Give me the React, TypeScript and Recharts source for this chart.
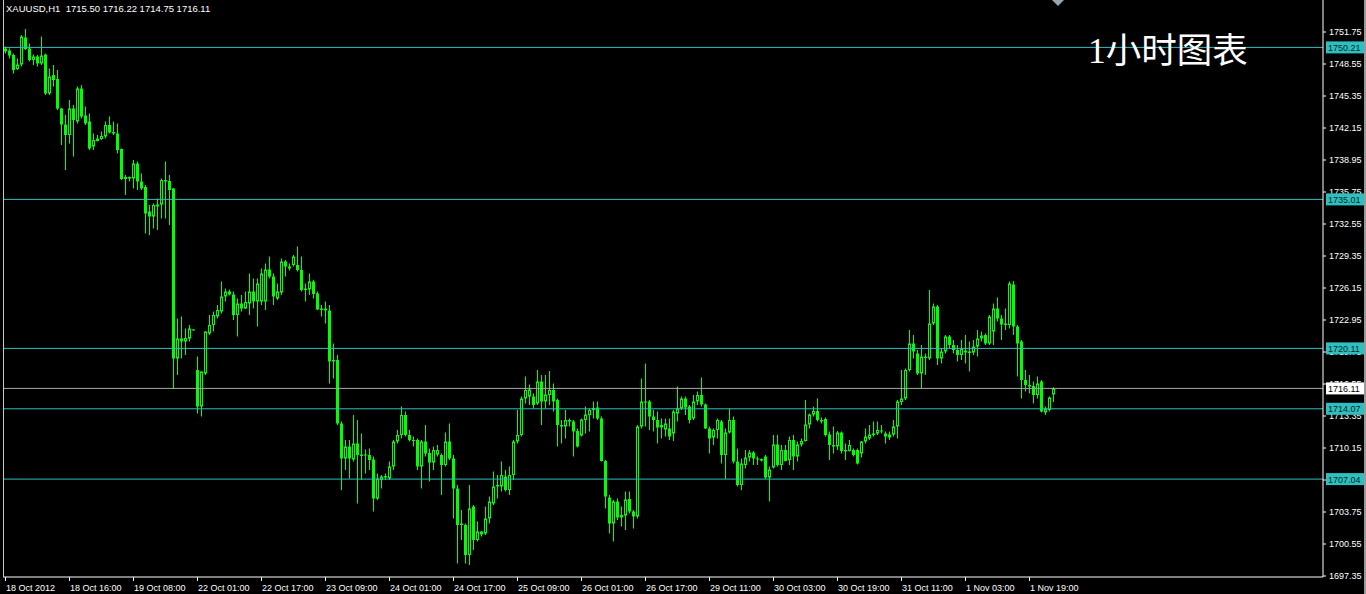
import React from 'react';
import { ComposedChart, Bar, XAxis, YAxis, ReferenceLine } from 'recharts';

type C = [number, number, number, number]; // open, high, low, close

const oct18: C[] = [
  [1750.1,1750.3,1749.6,1749.8],[1749.9,1750.1,1749.1,1749.4],[1749.45,1749.6,1747.6,1747.95],[1748.05,1749.1,1747.95,1748.5],
  [1748.5,1751.45,1748.3,1751.3],[1751.2,1752.05,1749.95,1750.05],[1750.1,1750.6,1748.8,1748.95],[1748.95,1749.5,1748.45,1749.3],
  [1749.3,1749.45,1748.3,1748.6],[1748.6,1751.3,1748.45,1749.4],[1749.5,1749.6,1745.45,1745.6],[1745.6,1748.1,1745.45,1747.3],
  [1747.45,1748.45,1746.3,1746.95],[1747.05,1747.95,1743.95,1744.1],[1744.1,1744.15,1740.45,1742.5],[1742.5,1743.45,1737.95,1741.45],
  [1741.45,1744.95,1740.6,1744.1],[1744.1,1744.45,1739.3,1742.95],[1742.8,1746.3,1742.6,1746.1],[1746.1,1746.45,1743.1,1743.3],
  [1743.4,1744.3,1742.45,1742.6],[1742.8,1743.6,1739.95,1740.1],[1740.3,1741.6,1739.95,1740.95],[1740.85,1741.45,1740.8,1741.1],
];
const oct19: C[] = [
  [1741.05,1741.8,1740.95,1741.35],[1741.3,1742.8,1741.1,1742.45],[1742.45,1743.3,1741.6,1741.7],[1741.7,1742.8,1741.45,1741.75],
  [1741.6,1742.6,1739.6,1739.95],[1740.05,1740.1,1736.95,1737.05],[1737.05,1737.45,1735.45,1737.25],[1737.25,1737.3,1736.8,1737.1],
  [1737.1,1738.95,1736.1,1738.6],[1738.6,1738.8,1735.95,1736.8],[1736.8,1737.6,1735.95,1736.1],[1736.25,1736.45,1731.6,1733.6],
  [1733.8,1734.45,1731.45,1733.3],[1733.3,1734.6,1732.1,1734.45],[1734.3,1735.1,1731.95,1734.5],[1734.5,1737.1,1733.1,1736.95],
  [1736.95,1738.8,1733.1,1736.8],[1736.85,1737.45,1732.45,1735.95],[1736.1,1736.15,1716.1,1719.1],[1719.1,1723.1,1717.45,1721.1],
  [1721.1,1723.3,1719.1,1720.8],[1720.8,1722.1,1719.45,1721.15],[1721.1,1722.45,1720.8,1722.1],
];
const oct22: C[] = [
  [1722.0,1722.05,1721.9,1721.95],[1717.95,1719.3,1713.6,1714.3],[1714.3,1717.8,1713.3,1717.8],[1717.6,1721.8,1717.45,1721.8],
  [1721.6,1723.45,1721.45,1722.45],[1722.45,1723.8,1721.8,1723.45],[1723.3,1724.45,1723.1,1723.95],[1723.8,1726.8,1723.6,1725.3],
  [1725.3,1726.1,1724.8,1725.8],[1725.8,1726.0,1725.4,1725.5],[1725.5,1725.8,1722.95,1723.45],[1723.45,1725.1,1721.3,1724.6],
  [1724.6,1725.45,1723.8,1724.1],[1724.1,1725.8,1724.05,1724.75],[1724.6,1727.6,1723.45,1725.8],[1725.8,1727.1,1724.1,1724.8],
  [1724.8,1727.1,1722.3,1726.6],[1724.8,1728.1,1724.45,1727.6],[1724.8,1728.6,1723.95,1728.0],[1728.0,1729.3,1727.1,1727.3],
  [1727.3,1727.6,1724.45,1725.3],[1725.1,1726.6,1724.95,1725.8],[1725.7,1729.1,1725.45,1728.8],[1728.8,1728.95,1727.3,1728.3],
];
const oct23: C[] = [
  [1728.3,1728.6,1727.9,1728.1],[1728.45,1729.45,1728.3,1729.3],[1728.45,1730.3,1727.8,1727.95],[1727.95,1729.3,1725.8,1725.95],
  [1725.95,1726.6,1724.8,1726.1],[1726.0,1727.6,1725.45,1726.8],[1726.8,1726.95,1725.1,1725.55],[1725.6,1725.8,1723.95,1724.0],
  [1724.0,1724.45,1723.3,1724.1],[1724.1,1724.8,1722.6,1723.9],[1723.9,1724.45,1716.6,1718.8],[1718.8,1720.6,1717.1,1718.95],
  [1718.95,1719.45,1712.45,1712.6],[1712.6,1712.8,1705.95,1709.1],[1709.1,1710.95,1707.95,1710.3],[1710.3,1710.95,1707.1,1709.1],
  [1709.0,1713.45,1708.8,1710.6],[1710.6,1712.95,1704.6,1709.45],[1709.45,1711.6,1706.95,1709.5],[1709.5,1710.0,1707.6,1709.4],
  [1709.45,1710.1,1707.95,1708.95],[1709.0,1709.3,1703.8,1705.1],[1705.1,1707.6,1704.95,1707.1],[1706.95,1707.45,1706.1,1707.3],
];
const oct24: C[] = [
  [1707.2,1707.6,1706.95,1707.35],[1707.1,1708.8,1706.95,1708.3],[1708.3,1710.95,1707.95,1710.8],[1710.8,1711.95,1710.6,1711.45],
  [1711.45,1714.3,1711.1,1713.45],[1713.45,1713.8,1711.3,1711.45],[1711.45,1711.95,1710.8,1710.95],[1710.95,1711.3,1710.3,1710.9],
  [1710.95,1711.1,1707.95,1708.3],[1708.3,1710.95,1706.1,1710.8],[1710.8,1712.45,1709.3,1709.6],[1709.65,1710.1,1706.8,1708.7],
  [1708.7,1710.3,1707.95,1709.95],[1709.5,1710.45,1709.3,1709.95],[1709.45,1709.6,1705.45,1708.45],[1708.45,1711.7,1708.3,1710.8],
  [1710.8,1712.6,1708.95,1709.1],[1709.1,1709.45,1703.1,1706.1],[1706.1,1706.45,1698.6,1702.45],[1702.45,1703.95,1700.95,1702.6],
  [1702.45,1702.6,1698.6,1699.45],[1699.45,1706.45,1698.45,1704.1],[1704.3,1704.45,1699.95,1700.95],[1700.95,1702.8,1700.8,1701.8],
];
const oct25: C[] = [
  [1701.8,1701.85,1701.3,1701.5],[1701.6,1704.3,1701.45,1703.1],[1703.1,1705.3,1702.6,1704.8],[1704.6,1707.8,1704.45,1706.3],
  [1706.3,1707.45,1705.1,1706.45],[1706.3,1708.8,1705.8,1707.45],[1707.3,1707.95,1705.8,1705.95],[1705.95,1708.3,1705.45,1707.45],
  [1707.45,1710.95,1706.95,1710.8],[1710.8,1713.95,1710.6,1711.45],[1711.45,1715.3,1711.3,1715.1],[1715.1,1717.3,1714.6,1715.95],
  [1715.3,1716.5,1714.45,1716.0],[1715.3,1715.6,1714.1,1714.45],[1714.6,1717.95,1714.45,1716.8],[1716.8,1717.45,1712.45,1714.8],
  [1714.8,1717.45,1714.1,1715.5],[1715.45,1717.85,1714.45,1715.95],[1715.95,1716.6,1713.8,1714.8],[1714.95,1715.1,1710.3,1712.45],
  [1712.45,1712.95,1710.6,1712.3],[1712.3,1713.95,1711.1,1712.95],[1712.95,1713.1,1712.3,1712.8],[1712.8,1712.95,1709.3,1711.8],
];
const oct26: C[] = [
  [1711.85,1712.1,1710.2,1710.3],[1711.4,1713.1,1711.3,1713.0],[1712.95,1714.3,1711.6,1713.5],[1713.45,1714.1,1711.8,1713.95],
  [1713.95,1714.8,1713.1,1714.15],[1714.2,1714.8,1712.95,1713.1],[1713.1,1713.3,1708.8,1708.85],[1708.85,1708.95,1704.1,1705.3],
  [1705.2,1705.45,1701.6,1702.6],[1702.6,1704.95,1700.8,1704.8],[1704.8,1705.1,1702.95,1703.2],[1703.2,1704.3,1702.3,1703.45],
  [1703.4,1705.8,1701.95,1705.0],[1705.05,1705.8,1703.6,1703.8],[1703.8,1703.95,1702.1,1703.3],[1703.3,1712.45,1703.1,1712.3],
  [1712.3,1717.1,1712.1,1714.8],[1714.8,1718.6,1712.3,1714.7],[1714.8,1714.95,1711.95,1713.3],[1713.3,1713.95,1711.8,1712.95],
  [1712.95,1713.8,1710.6,1712.2],[1712.2,1713.1,1711.1,1712.45],
];
const oct29: C[] = [
  [1712.0,1713.1,1711.3,1712.6],[1712.1,1713.1,1710.95,1711.3],[1711.6,1713.95,1710.85,1713.8],[1713.6,1716.3,1712.8,1714.1],
  [1714.1,1715.3,1713.95,1715.1],[1715.1,1715.3,1713.45,1714.2],[1714.3,1714.45,1712.6,1712.95],[1713.1,1715.45,1712.95,1714.8],
  [1714.8,1715.8,1714.45,1715.45],[1715.45,1717.2,1714.3,1714.5],[1714.5,1714.6,1712.05,1712.1],[1712.1,1712.3,1709.6,1711.1],
  [1711.2,1712.1,1710.45,1711.95],[1711.95,1713.1,1711.1,1712.95],[1712.8,1712.95,1708.6,1709.45],[1709.45,1712.1,1707.05,1711.7],
  [1711.7,1714.1,1711.6,1712.95],[1712.95,1713.3,1708.6,1708.8],[1708.8,1710.1,1706.3,1706.45],[1706.45,1709.1,1705.95,1708.6],
  [1708.45,1709.95,1708.1,1709.2],[1709.2,1709.95,1708.8,1709.7],[1709.7,1709.85,1708.45,1709.1],[1709.1,1709.3,1708.45,1709.0],
];
const oct30: C[] = [
  [1709.05,1709.1,1708.8,1708.9],[1709.3,1709.45,1707.05,1707.2],[1707.2,1708.3,1704.8,1708.0],[1708.2,1711.45,1708.1,1710.5],
  [1710.5,1711.45,1708.3,1708.45],[1708.45,1710.45,1707.95,1709.95],[1709.95,1710.45,1708.8,1708.85],[1708.95,1711.3,1708.45,1710.95],
  [1710.95,1711.45,1707.95,1709.3],[1709.3,1710.8,1708.8,1710.5],[1710.5,1711.1,1710.3,1710.85],[1710.85,1714.95,1710.8,1712.5],
  [1712.5,1713.6,1712.1,1713.5],[1713.5,1714.3,1713.3,1713.85],[1713.85,1715.1,1712.8,1712.95],[1712.95,1713.2,1712.6,1712.8],
  [1713.05,1713.2,1711.3,1711.45],[1711.5,1711.8,1708.95,1710.45],[1710.45,1712.3,1709.6,1710.3],[1710.3,1711.85,1709.95,1711.7],
  [1711.7,1711.8,1709.6,1709.85],[1709.85,1710.6,1708.95,1709.95],[1709.85,1710.95,1709.8,1710.45],[1709.95,1710.1,1709.3,1709.45],
];
const oct31: C[] = [
  [1709.95,1710.1,1708.5,1708.6],[1709.6,1710.85,1709.2,1710.8],[1710.8,1712.1,1710.6,1711.3],[1711.1,1712.45,1710.95,1711.5],
  [1711.5,1712.8,1711.3,1711.6],[1711.6,1712.8,1711.45,1711.95],[1711.9,1712.45,1711.6,1711.8],[1711.6,1711.8,1710.6,1711.3],
  [1711.2,1711.8,1710.95,1711.5],[1711.5,1712.95,1711.3,1712.3],[1712.3,1714.95,1711.1,1714.8],[1714.75,1717.95,1714.45,1715.1],
  [1715.1,1718.1,1714.95,1717.95],[1717.95,1721.95,1717.8,1720.6],[1720.6,1721.45,1719.1,1719.8],[1719.6,1719.95,1717.45,1717.6],
  [1717.6,1720.45,1716.1,1719.3],[1719.3,1719.6,1717.45,1719.15],[1719.1,1725.95,1718.95,1722.6],[1722.6,1724.6,1722.45,1724.3],
  [1724.3,1724.45,1718.45,1719.1],[1719.1,1720.1,1718.6,1719.8],[1719.8,1721.45,1719.6,1721.3],[1721.3,1721.45,1720.1,1720.45],
];
const nov01: C[] = [
  [1720.45,1720.95,1719.6,1719.95],[1719.95,1720.45,1718.8,1719.45],[1719.45,1720.95,1718.95,1720.05],[1719.9,1721.45,1718.6,1719.7],
  [1719.7,1720.8,1717.8,1719.8],[1719.7,1720.95,1719.45,1720.3],[1720.3,1721.95,1719.3,1721.1],[1721.1,1721.8,1720.8,1721.4],
  [1721.45,1721.6,1720.45,1720.6],[1720.6,1723.45,1720.45,1723.3],[1721.8,1724.6,1720.45,1724.1],[1724.1,1725.2,1722.8,1723.1],
  [1723.1,1723.45,1720.95,1722.5],[1722.5,1724.1,1721.95,1722.6],[1722.45,1726.8,1722.1,1726.6],[1726.5,1726.85,1721.45,1722.3],
  [1722.3,1722.45,1717.3,1720.6],[1720.8,1720.95,1715.1,1716.95],[1716.95,1717.95,1715.8,1716.45],[1716.45,1717.45,1715.6,1716.3],
  [1716.35,1716.8,1714.6,1715.45],[1715.45,1717.3,1715.1,1716.6],[1716.8,1716.95,1713.7,1713.8],[1713.7,1714.3,1713.45,1714.1],
];
const nov02: C[] = [
  [1713.95,1715.3,1713.8,1715.2],[1715.5,1716.22,1714.75,1716.11],
];

const timeLabels = [
  '18 Oct 2012', '18 Oct 16:00', '19 Oct 08:00', '22 Oct 01:00', '22 Oct 17:00', '23 Oct 09:00',
  '24 Oct 01:00', '24 Oct 17:00', '25 Oct 09:00', '26 Oct 01:00', '26 Oct 17:00', '29 Oct 11:00',
  '30 Oct 03:00', '30 Oct 19:00', '31 Oct 11:00', '1 Nov 03:00', '1 Nov 19:00',
];
const barsPerLabel = 16;
const totalSlots = 330; // bars + empty shift area on the right

const priceTicks = [
  1697.35, 1700.55, 1703.75, 1706.95, 1710.15, 1713.35, 1716.55, 1719.75, 1722.95,
  1726.15, 1729.35, 1732.55, 1735.75, 1738.95, 1742.15, 1745.35, 1748.55, 1751.75,
];
const priceDomain: [number, number] = [1697.25, 1754.95];
const levels = [1750.21, 1735.01, 1720.11, 1714.07, 1707.04];
const bidPrice = 1716.11;
const tagValues = [...levels, bidPrice];
const header = 'XAUUSD,H1  1715.50 1716.22 1714.75 1716.11';
const title = '1小时图表';

const GREEN = '#00ff00';
const CYAN = '#2fbfbf';
const AXIS = '#ffffff';
const FONT = '"Liberation Sans", Arial, sans-serif';

const candles: C[] = [oct18, oct19, oct22, oct23, oct24, oct25, oct26, oct29, oct30, oct31, nov01, nov02].flat();
const data = Array.from({ length: totalSlots }, (_, i) => {
  const c = candles[i];
  const label = i % barsPerLabel === 0 ? timeLabels[i / barsPerLabel] ?? '' : '';
  if (!c) return { i, label, range: null as any };
  return { i, label, o: c[0], h: c[1], l: c[2], c: c[3], range: [c[2], c[1]] };
});

const Candle = (props: any) => {
  const { x, y, width, height, payload } = props;
  if (!payload || payload.h == null) return null;
  const { o, h, l, c } = payload;
  const top = height >= 0 ? y : y + height;
  const hh = Math.abs(height);
  const k = h - l > 0 ? hh / (h - l) : 0;
  const yO = top + (h - o) * k;
  const yC = top + (h - c) * k;
  const bt = Math.min(yO, yC);
  const bb = Math.max(yO, yC);
  const cx = Math.floor(x + width / 2);
  const bull = c > o;
  return (
    <g>
      <rect x={cx} y={top} width={1} height={Math.max(hh, 1)} fill={GREEN} />
      {bull ? (
        <rect x={cx - 0.5} y={bt + 0.5} width={2} height={Math.max(bb - bt - 1, 0.5)} fill="#000" stroke={GREEN} strokeWidth={1} />
      ) : (
        <rect x={cx - 1} y={bt} width={3} height={Math.max(bb - bt, 1)} fill={GREEN} />
      )}
    </g>
  );
};

const TimeTick = (props: any) => {
  const { x, y, payload } = props;
  const v = payload?.value;
  if (!v) return null;
  const px = Math.floor(x);
  return (
    <g>
      <rect x={px} y={y} width={1} height={4} fill={AXIS} />
      <text x={px + 1} y={y + 14} fill={AXIS} fontSize={9} fontFamily={FONT}>{v}</text>
    </g>
  );
};

// Price tags drawn by a thin axis placed after the main price axis, so they sit on top of its labels.
const TagTick = (props: any) => {
  const { x, y, payload } = props;
  const v = payload?.value;
  if (v == null) return null;
  const isBid = v === bidPrice;
  const bg = isBid ? '#ffffff' : CYAN;
  const fg = isBid ? '#000000' : '#002a2a';
  return (
    <g>
      <rect x={x - 38} y={y - 6} width={38} height={12} fill={bg} />
      <text x={x - 36} y={y + 3.5} fill={fg} fontSize={9} fontFamily={FONT}>{Number(v).toFixed(2)}</text>
    </g>
  );
};

export default function App() {
  return (
    <div style={{ position: 'fixed', left: 0, top: 0, width: 1366, height: 594, background: '#000', overflow: 'hidden' }}>
      <ComposedChart
        width={1366}
        height={594}
        data={data}
        margin={{ top: 0, right: 0, bottom: 0, left: 3 }}
        barCategoryGap={0}
        barGap={0}
      >
        <XAxis
          dataKey="label"
          interval={0}
          tickLine={false}
          tickSize={0}
          tickMargin={0}
          axisLine={{ stroke: AXIS }}
          height={17}
          tick={<TimeTick />}
        />
        <YAxis
          orientation="right"
          width={41}
          domain={priceDomain}
          allowDataOverflow
          ticks={priceTicks}
          interval={0}
          tickSize={3}
          tickMargin={3}
          tickLine={{ stroke: AXIS }}
          axisLine={{ stroke: AXIS }}
          tick={{ fill: AXIS, fontSize: 9, fontFamily: FONT }}
          tickFormatter={(v: number) => v.toFixed(2)}
        />
        <YAxis
          yAxisId="tags"
          orientation="right"
          width={2}
          domain={priceDomain}
          allowDataOverflow
          ticks={tagValues}
          interval={0}
          tickSize={0}
          tickMargin={0}
          tickLine={false}
          axisLine={false}
          tick={<TagTick />}
        />
        <Bar dataKey="range" shape={<Candle />} isAnimationActive={false} />
        {levels.map((v) => (
          <ReferenceLine key={v} y={v} stroke={CYAN} strokeWidth={1} />
        ))}
        <ReferenceLine y={bidPrice} stroke="#a8a8a8" strokeWidth={1} />
      </ComposedChart>
      <div style={{ position: 'absolute', left: 3, top: 0, width: 1, height: 577, background: '#c8c8c8' }} />
      <div style={{ position: 'absolute', left: 1364, top: 0, width: 2, height: 594, background: '#9a9a9a' }} />
      <div style={{ position: 'absolute', left: 6, top: 3, color: '#fff', fontFamily: FONT, fontSize: 9.5, whiteSpace: 'pre' }}>{header}</div>
      <div style={{ position: 'absolute', left: 1088, top: 30, color: '#fff', fontFamily: '"Liberation Serif", "Noto Sans CJK SC", serif', fontSize: 35.5, lineHeight: 1.2, whiteSpace: 'pre' }}>{title}</div>
      <svg style={{ position: 'absolute', left: 1052, top: 0 }} width={12} height={7}>
        <polygon points="0,0 12,0 6,6" fill="#9aa4b0" />
      </svg>
    </div>
  );
}
